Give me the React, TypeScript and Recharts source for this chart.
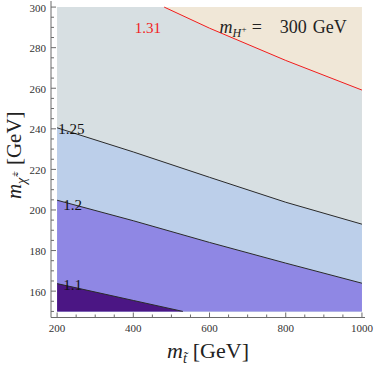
import React from 'react';
import { ComposedChart, Area, Line, XAxis, YAxis, ReferenceDot } from 'recharts';

const stopMass = [200, 400, 481, 530, 600, 800, 1000];
// chargino mass (GeV) of each boundary at those stop masses
const regionTop = [300, 300, 300, 300, 300, 300, 300];
const below131 = [300, 300, 300, null, 289.6, 273.7, 259.1];
const contour131 = [null, null, 300, null, 289.6, 273.7, 259.1];
const contour125 = [240.5, 228.6, null, null, 216.1, 203.8, 193.0];
const contour12 = [204.8, 194.7, null, null, 184.0, 173.8, 163.9];
const contour11 = [163.7, 155.4, null, 150, null, null, null];

// contour labels: text, stop mass, chargino mass
const labelText = ['1.31', '1.25', '1.2', '1.1'];
const labelX = [404, 203, 216, 216];
const labelY = [287.4, 237.4, 200.2, 160.6];

const xMajor = [200, 400, 600, 800, 1000];
const xMinor = [250, 300, 350, 450, 500, 550, 650, 700, 750, 850, 900, 950];
const yMajor = [160, 180, 200, 220, 240, 260, 280, 300];
const yMinor = [150, 155, 165, 170, 175, 185, 190, 195, 205, 210, 215, 225, 230, 235, 245, 250, 255, 265, 270, 275, 285, 290, 295];

const SERIF = '"Liberation Serif", "Times New Roman", serif';
const FRAME = '#6b6b6b';

const data = stopMass.map((m, i) => ({
  m,
  top: regionTop[i],
  gray: below131[i],
  c131: contour131[i],
  c125: contour125[i],
  c12: contour12[i],
  c11: contour11[i],
}));

const BottomTick = (props: any) => {
  const { x, y, payload } = props;
  const major = xMajor.includes(payload.value);
  return (
    <g>
      <line x1={x} x2={x} y1={y} y2={y - (major ? 5 : 3)} stroke={FRAME} />
      {major && (
        <text x={x} y={y + 14} textAnchor="middle" fontSize={11} fontFamily={SERIF} fill="#333">
          {payload.value}
        </text>
      )}
    </g>
  );
};

const TopTick = (props: any) => {
  const { x, y, payload } = props;
  const major = xMajor.includes(payload.value);
  return <line x1={x} x2={x} y1={y} y2={y + (major ? 5 : 3)} stroke={FRAME} />;
};

const LeftTick = (props: any) => {
  const { x, y, payload } = props;
  const major = yMajor.includes(payload.value);
  return (
    <g>
      <line x1={x} x2={x + (major ? 5 : 3)} y1={y} y2={y} stroke={FRAME} />
      {major && (
        <text x={x - 5} y={y + 4.5} textAnchor="end" fontSize={11} fontFamily={SERIF} fill="#333">
          {payload.value}
        </text>
      )}
    </g>
  );
};

const RightTick = (props: any) => {
  const { x, y, payload } = props;
  const major = yMajor.includes(payload.value);
  return <line x1={x} x2={x - (major ? 5 : 3)} y1={y} y2={y} stroke={FRAME} />;
};

const XTitle = (props: any) => {
  const vb = props.viewBox;
  return (
    <text x={vb.x + vb.width / 2} y={vb.y + 40.5} textAnchor="middle" fontFamily={SERIF} fontSize={22} fill="#222">
      <tspan fontStyle="italic">m</tspan>
      <tspan fontStyle="italic" fontSize={14} dy={5}>t&#x303;</tspan>
      <tspan dy={-5} dx={6}>[GeV]</tspan>
    </text>
  );
};

const YTitle = (props: any) => {
  const vb = props.viewBox;
  const cx = vb.x + 21;
  const cy = vb.y + vb.height / 2 - 4;
  return (
    <text x={cx} y={cy} transform={`rotate(-90 ${cx} ${cy})`} textAnchor="middle" fontFamily={SERIF} fontSize={21} fill="#222">
      <tspan fontStyle="italic">m</tspan>
      <tspan fontStyle="italic" fontSize={14} dy={5}>&#x3C7;&#x303;</tspan>
      <tspan fontSize={10} dy={-8} dx={1}>+</tspan>
      <tspan dy={3} dx={6}>[GeV]</tspan>
    </text>
  );
};

const contourLabel = (text: string, color: string) => (props: any) => {
  const vb = props.viewBox;
  return (
    <text x={vb.x} y={vb.y} fontFamily={SERIF} fontSize={15} fill={color}>
      {text}
    </text>
  );
};

const massLabel = (props: any) => {
  const vb = props.viewBox;
  return (
    <text x={vb.x} y={vb.y} fontFamily={SERIF} fontSize={18} fill="#222">
      <tspan fontStyle="italic">m</tspan>
      <tspan fontStyle="italic" fontSize={12} dy={4}>H</tspan>
      <tspan fontSize={9} dy={-5} dx={0.5}>+</tspan>
      <tspan dy={1} dx={5}>=</tspan>
      <tspan dx={18}>300</tspan>
      <tspan dx={6}>GeV</tspan>
    </text>
  );
};

const App: React.FC = () => {
  return (
    <div style={{ position: 'absolute', left: 0, top: 0, background: '#fff' }}>
      <ComposedChart width={374} height={365} data={data} margin={{ top: 1, right: 9, bottom: 0, left: 0 }}>
        <XAxis
          xAxisId="b"
          dataKey="m"
          type="number"
          domain={[184, 1008]}
          allowDataOverflow
          ticks={[...xMajor, ...xMinor]}
          interval={0}
          tickSize={0}
          tickMargin={0}
          tickLine={false}
          tick={<BottomTick />}
          axisLine={{ stroke: FRAME }}
          height={47.5}
          label={<XTitle />}
        />
        <XAxis
          xAxisId="t"
          orientation="top"
          dataKey="m"
          type="number"
          domain={[184, 1008]}
          allowDataOverflow
          ticks={[...xMajor, ...xMinor]}
          interval={0}
          tickSize={0}
          tickMargin={0}
          tickLine={false}
          tick={<TopTick />}
          axisLine={{ stroke: FRAME }}
          height={0}
        />
        <YAxis
          yAxisId="l"
          type="number"
          domain={[147, 303]}
          allowDataOverflow
          ticks={[...yMajor, ...yMinor]}
          interval={0}
          tickSize={0}
          tickMargin={0}
          tickLine={false}
          tick={<LeftTick />}
          axisLine={{ stroke: FRAME }}
          width={51}
          label={<YTitle />}
        />
        <YAxis
          yAxisId="r"
          orientation="right"
          type="number"
          domain={[147, 303]}
          allowDataOverflow
          ticks={[...yMajor, ...yMinor]}
          interval={0}
          tickSize={0}
          tickMargin={0}
          tickLine={false}
          tick={<RightTick />}
          axisLine={{ stroke: FRAME }}
          width={0}
        />

        <Area xAxisId="b" yAxisId="l" type="linear" dataKey="top" baseValue={150} fill="#f0e7d7" fillOpacity={1} stroke="none" connectNulls isAnimationActive={false} />
        <Area xAxisId="b" yAxisId="l" type="linear" dataKey="gray" baseValue={150} fill="#d7dfe2" fillOpacity={1} stroke="none" connectNulls isAnimationActive={false} />
        <Area xAxisId="b" yAxisId="l" type="linear" dataKey="c125" baseValue={150} fill="#bccfea" fillOpacity={1} stroke="none" connectNulls isAnimationActive={false} />
        <Area xAxisId="b" yAxisId="l" type="linear" dataKey="c12" baseValue={150} fill="#8f87e4" fillOpacity={1} stroke="none" connectNulls isAnimationActive={false} />
        <Area xAxisId="b" yAxisId="l" type="linear" dataKey="c11" baseValue={150} fill="#4b1684" fillOpacity={1} stroke="none" connectNulls isAnimationActive={false} />

        <Line xAxisId="b" yAxisId="l" type="linear" dataKey="c131" stroke="#f21c1c" strokeWidth={1} dot={false} connectNulls isAnimationActive={false} />
        <Line xAxisId="b" yAxisId="l" type="linear" dataKey="c125" stroke="#2a2a2a" strokeWidth={1} dot={false} connectNulls isAnimationActive={false} />
        <Line xAxisId="b" yAxisId="l" type="linear" dataKey="c12" stroke="#2a2a2a" strokeWidth={1} dot={false} connectNulls isAnimationActive={false} />
        <Line xAxisId="b" yAxisId="l" type="linear" dataKey="c11" stroke="#2a2a2a" strokeWidth={1} dot={false} connectNulls isAnimationActive={false} />

        {labelText.map((t, i) => (
          <ReferenceDot
            key={t}
            xAxisId="b"
            yAxisId="l"
            x={labelX[i]}
            y={labelY[i]}
            r={0}
            fill="none"
            stroke="none"
            label={contourLabel(t, i === 0 ? '#f21c1c' : '#111')}
          />
        ))}
        <ReferenceDot xAxisId="b" yAxisId="l" x={626} y={287.1} r={0} fill="none" stroke="none" label={massLabel} />
      </ComposedChart>
    </div>
  );
};

export default App;
